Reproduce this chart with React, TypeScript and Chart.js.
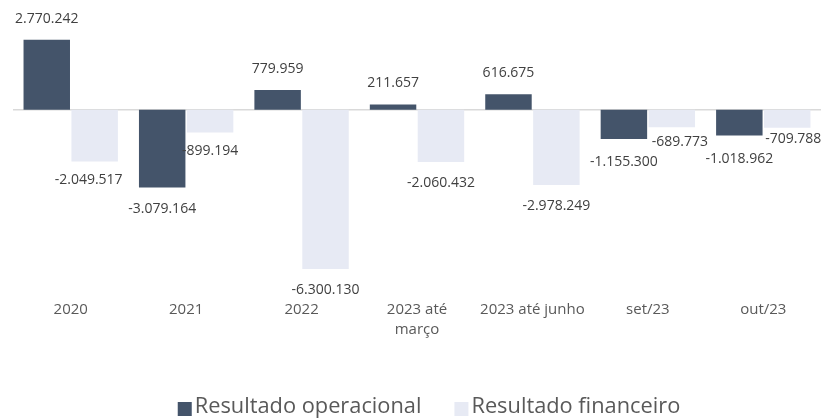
import React, { useEffect, useRef } from "react";
import { Chart, registerables } from "chart.js";

Chart.register(...registerables);

const categories: (string | string[])[] = ["2020", "2021", "2022", ["2023 até", "março"], "2023 até junho", "set/23", "out/23"];
const seriesNames = ["Resultado operacional", "Resultado financeiro"];
const operacional = [2770242, -3079164, 779959, 211657, 616675, -1155300, -1018962];
const financeiro = [-2049517, -899194, -6300130, -2060432, -2978249, -689773, -709788];
const colors = ["#44546A", "#E7EAF4"];

// small label nudges (style only) to avoid overlaps, as in the original
const labelNudges: { [k: string]: { dx: number; dy: number } } = {
  "1-0": { dx: -6, dy: -3 },
  "1-1": { dx: 0, dy: -3 },
  "1-5": { dx: 8, dy: -6 },
  "1-6": { dx: 6, dy: -10 },
  "0-5": { dx: 0, dy: 2 },
  "0-6": { dx: 0, dy: 2 },
};

const FONT = "'Open Sans', 'DejaVu Sans', sans-serif";
const TEXT = "#595959";

function fmt(v: number): string {
  const s = Math.abs(Math.round(v)).toString().replace(/\B(?=(\d{3})+(?!\d))/g, ".");
  return (v < 0 ? "-" : "") + s;
}

const zeroLine = {
  id: "zeroLine",
  beforeDatasetsDraw(chart: any) {
    const { ctx, chartArea, scales } = chart;
    const y = scales.y.getPixelForValue(0);
    ctx.save();
    ctx.strokeStyle = "#D9D9D9";
    ctx.lineWidth = 1.5;
    ctx.beginPath();
    ctx.moveTo(chartArea.left, y);
    ctx.lineTo(chartArea.right, y);
    ctx.stroke();
    ctx.restore();
  },
};

const dataLabels = {
  id: "dataLabels",
  afterDatasetsDraw(chart: any) {
    const { ctx } = chart;
    ctx.save();
    ctx.font = `14px ${FONT}`;
    ctx.fillStyle = "#404040";
    ctx.textAlign = "center";
    ctx.textBaseline = "middle";
    chart.data.datasets.forEach((ds: any, di: number) => {
      const meta = chart.getDatasetMeta(di);
      meta.data.forEach((el: any, i: number) => {
        const v = ds.data[i];
        const n = labelNudges[`${di}-${i}`] || { dx: 0, dy: 0 };
        const y = v >= 0 ? el.y - 21 : el.y + 21;
        ctx.fillText(fmt(v), el.x + n.dx, y + n.dy);
      });
    });
    ctx.restore();
  },
};

const customLegend = {
  id: "customLegend",
  afterDraw(chart: any) {
    const { ctx } = chart;
    ctx.save();
    ctx.font = `21.8px ${FONT}`;
    ctx.textBaseline = "middle";
    const box = 14;
    const gapBox = 3;
    const gapItem = 33;
    const widths = seriesNames.map((n) => ctx.measureText(n).width);
    const total = widths.reduce((a, w) => a + box + gapBox + w, 0) + gapItem * (seriesNames.length - 1);
    let x = (chart.width - total) / 2 + 12;
    const cy = 407;
    seriesNames.forEach((n, i) => {
      ctx.fillStyle = colors[i];
      ctx.fillRect(x, cy - box / 2 + 2, box, box);
      x += box + gapBox;
      ctx.fillStyle = TEXT;
      ctx.fillText(n, x, cy);
      x += widths[i] + gapItem;
    });
    ctx.restore();
  },
};

export default function App() {
  const ref = useRef<HTMLCanvasElement | null>(null);
  useEffect(() => {
    document.body.style.margin = "0";
    const chart = new Chart(ref.current!, {
      type: "bar",
      data: {
        labels: categories as any,
        datasets: [
          { label: seriesNames[0], data: operacional, backgroundColor: colors[0], categoryPercentage: 0.83, barPercentage: 0.97 },
          { label: seriesNames[1], data: financeiro, backgroundColor: colors[1], categoryPercentage: 0.83, barPercentage: 0.97 },
        ],
      },
      options: {
        responsive: false,
        animation: false,
        layout: { padding: { top: 34, left: 13, right: 13, bottom: 65.6 } },
        plugins: { legend: { display: false }, tooltip: { enabled: false } },
        scales: {
          x: {
            grid: { display: false, drawTicks: false },
            border: { display: false },
            ticks: { color: TEXT, font: { family: FONT, size: 15, lineHeight: 1.33 }, padding: 13.4, maxRotation: 0, autoSkip: false },
          },
          y: {
            display: false,
            min: -7000000,
            max: 3000000,
          },
        },
      },
      plugins: [zeroLine, dataLabels, customLegend],
    });
    return () => chart.destroy();
  }, []);
  return <canvas ref={ref} width={834} height={419} />;
}
